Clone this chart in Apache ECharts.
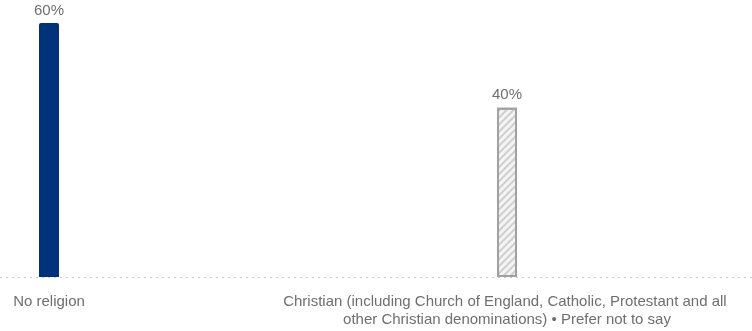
<!DOCTYPE html>
<html><head><meta charset="utf-8">
<script src="https://cdn.jsdelivr.net/npm/echarts@6/dist/echarts.min.js"></script>
<style>html,body{margin:0;padding:0;background:#fff}#c{width:752px;height:331px}</style>
</head><body><div id="c"></div>
<script>
const categories = ["No religion", "Christian (including Church of England, Catholic, Protestant and all other Christian denominations) • Prefer not to say"];
const values = [60, 40];

const chart = echarts.init(document.getElementById('c'));
const font = '"Liberation Sans", Arial, sans-serif';
chart.setOption({
  animation: false,
  grid: { left: 49, right: 245, top: 23, bottom: 54, containLabel: false, outerBoundsMode: 'none' },
  xAxis: {
    type: 'category', data: categories, boundaryGap: false,
    axisLine: { show: false }, axisTick: { show: false },
    axisLabel: { interval: 0, margin: 16, color: '#6f6f6f', fontSize: 15, fontFamily: font,
      width: 470, overflow: 'break', lineHeight: 18, align: 'center', hideOverlap: false }
  },
  yAxis: { type: 'value', min: 0, max: 60, show: false, splitLine: { show: false } },
  series: [{
    type: 'bar', barWidth: 20,
    data: values.map((v, i) => i === 0 ? {
      value: v, itemStyle: { color: '#00337a', borderRadius: [2, 2, 0, 0] }
    } : {
      value: v, itemStyle: {
        color: '#f4f4f4', borderColor: '#a0a0a0', borderWidth: 2,
        decal: { symbol: 'rect', dashArrayX: [1, 0], dashArrayY: [2, 3], rotation: -Math.PI / 4, color: '#cfcfcf' }
      }
    }),
    label: { show: true, position: 'top', distance: 5, formatter: '{c}%', color: '#6f6f6f', fontSize: 15, fontFamily: font }
  }]
});
const base = chart.convertToPixel({ gridIndex: 0 }, [0, 0]);
chart.setOption({
  graphic: [{ type: 'line', silent: true, z: 0,
    shape: { x1: 0, y1: base[1] + 0.5, x2: 752, y2: base[1] + 0.5 },
    style: { stroke: '#c8c8c8', lineWidth: 1, lineDash: [2, 4] } }]
});
</script></body></html>
